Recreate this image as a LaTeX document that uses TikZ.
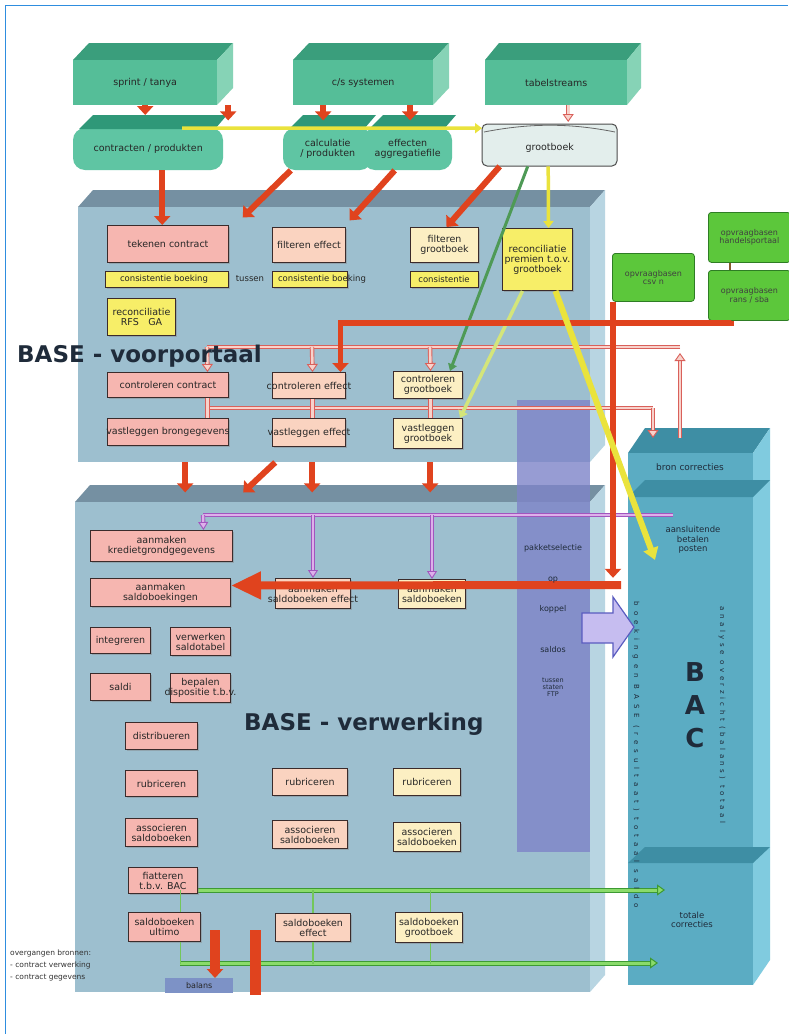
\documentclass[tikz,border=0pt]{standalone}
\usepackage{fontspec}
\setmainfont{DejaVu Sans}
\usetikzlibrary{arrows.meta,shadows}

\definecolor{gfront}{HTML}{55BE98}
\definecolor{gtop}{HTML}{3A9E7C}
\definecolor{gside}{HTML}{86D3B6}
\definecolor{cardb}{HTML}{5FC5A3}
\definecolor{cardt}{HTML}{2F9878}
\definecolor{vfront}{HTML}{9DBFCF}
\definecolor{vtop}{HTML}{7590A2}
\definecolor{vside}{HTML}{B8D5E2}
\definecolor{pkf}{HTML}{F6B6B0}
\definecolor{pcf}{HTML}{FAD3C0}
\definecolor{crf}{HTML}{FCEFC3}
\definecolor{ylf}{HTML}{F7EE68}
\definecolor{bdr}{HTML}{3B2B2B}
\definecolor{redc}{HTML}{E0431E}
\definecolor{yelc}{HTML}{EAE33C}
\definecolor{paley}{HTML}{D4E57A}
\definecolor{grnc}{HTML}{4E9A56}
\definecolor{pinkd}{HTML}{D9605A}
\definecolor{pinkl}{HTML}{F8D2CB}
\definecolor{purd}{HTML}{A255BE}
\definecolor{purl}{HTML}{DDB0EA}
\definecolor{gld}{HTML}{3D9A33}
\definecolor{gll}{HTML}{8ADB6B}
\definecolor{bandc}{HTML}{7E84C8}
\definecolor{bfront}{HTML}{5BACC3}
\definecolor{btop}{HTML}{3E8EA4}
\definecolor{bside}{HTML}{80CBDF}
\definecolor{brgf}{HTML}{5CC73B}
\definecolor{brgd}{HTML}{2E7D24}
\definecolor{titlec}{HTML}{1F2B3A}
\definecolor{framec}{HTML}{2E8DDF}
\definecolor{balc}{HTML}{7D92C6}
\definecolor{arrf}{HTML}{C6BDF0}
\definecolor{arrd}{HTML}{5A5CC0}
\definecolor{gbf}{HTML}{E3EEEC}

\tikzset{
  bare/.style={},
  bx/.style={draw=bdr, line width=1pt, drop shadow={shadow xshift=1.3pt, shadow yshift=-1.3pt, opacity=0.4}},
  pk/.style={bx, fill=pkf},
  pc/.style={bx, fill=pcf},
  cr/.style={bx, fill=crf},
  yl/.style={bx, fill=ylf},
  gr/.style={draw=brgd, fill=brgf, line width=0.8pt, rounded corners=3pt},
  bl/.style={fill=balc},
  btxt/.style={font=\fontsize{9.5}{10}\selectfont, align=center, inner sep=0pt, text=black!85},
  redarr/.style={draw=redc, line width=6pt, -{Triangle[length=9pt,width=16pt]}},
  redbig/.style={draw=redc, line width=8pt, -{Triangle[length=30pt,width=26pt]}},
  yelarr/.style={draw=yelc, line width=3.5pt, -{Triangle[length=7pt,width=10pt]}},
  yelbig/.style={draw=yelc, line width=6pt, -{Triangle[length=12pt,width=15pt]}},
  palearr/.style={draw=paley, line width=3.5pt, -{Triangle[length=7pt,width=10pt]}},
  grnarr/.style={draw=grnc, line width=3pt, -{Triangle[length=7pt,width=9pt]}},
  pinkl1/.style={draw=pinkd, line width=0.9pt, double=pinkl, double distance=2.6pt},
  pinkarr/.style={pinkl1, -{Triangle[length=8pt,width=11pt,fill=pinkl]}},
  purl1/.style={draw=purd, line width=0.9pt, double=purl, double distance=2.4pt},
  purarr/.style={purl1, -{Triangle[length=8pt,width=10pt,fill=purl]}},
  grnl1/.style={draw=gld, line width=1pt, double=gll, double distance=3pt, -{Triangle[length=8pt,width=11pt,fill=gll]}},
  gthin/.style={draw=gll!70!gld, line width=1.6pt},
  title/.style={font=\fontsize{23}{24}\bfseries, text=titlec, inner sep=0pt},
}

\newcommand{\boxnode}[8][]{%
  \node[#3, anchor=north west, inner sep=0pt, minimum width={(#6-#4)*1pt}, minimum height={(#7-#5)*1pt}] (#2) at (#4,#5) {};
  \node[btxt,#1] (#2t) at (#2.center) {#8};}

\newcommand{\cuboid}[9]{%
  \fill[#8] (#1,#2) -- ({#1+#5},{#2-#6}) -- ({#3+#5},{#2-#6}) -- (#3,#2) -- cycle;
  \fill[#9] (#3,#2) -- ({#3+#5},{#2-#6}) -- ({#3+#5},{#4-#6}) -- (#3,#4) -- cycle;
  \fill[#7] (#1,#2) rectangle (#3,#4);}

\newcommand{\card}[6]{%
  \fill[cardb, rounded corners=12pt] (#2,{#3+13}) rectangle (#4,#5);
  \fill[cardt] ({#2+6},{#3+14}) -- ({#2+20},#3) -- ({#4+4},#3) -- ({#4-8},{#3+14}) -- cycle;
  \node[bare, anchor=north west, inner sep=0pt, minimum width={(#4-#2)*1pt}, minimum height={(#5-#3)*1pt}] (#1) at (#2,#3) {};
  \node[btxt] (#1t) at ([yshift=-6pt]#1.center) {#6};}

\begin{document}
\begin{tikzpicture}[x=1pt,y=-1pt]
\useasboundingbox (0,0) rectangle (788,1034);
\fill[white] (0,0) rectangle (788,1034);
\draw[framec, line width=1.2pt] (5.5,1034) -- (5.5,5.5) -- (788,5.5);

% ---- large blocks
\cuboid{78}{207}{590}{462}{15}{17}{fill=vfront}{fill=vtop}{fill=vside}
\node[bare, anchor=north west, inner sep=0pt, minimum width=512pt, minimum height=255pt] (vp) at (78,207) {};
\cuboid{75}{502}{590}{992}{15}{17}{fill=vfront}{fill=vtop}{fill=vside}
\node[bare, anchor=north west, inner sep=0pt, minimum width=515pt, minimum height=490pt] (vw) at (75,502) {};
\cuboid{628}{453}{753}{985}{17}{25}{fill=bfront}{fill=btop}{fill=bside}
\fill[btop] (628,497) -- (645,480) -- (770,480) -- (753,497) -- cycle;
\fill[btop] (628,863) -- (645,847) -- (770,847) -- (753,863) -- cycle;
\node[bare, anchor=north west, inner sep=0pt, minimum width=125pt, minimum height=532pt] (bac) at (628,453) {};

% purple band
\node[fill=bandc, fill opacity=0.8, anchor=north west, inner sep=0pt, minimum width=73pt, minimum height=452pt] (band) at (517,400) {};

% ---- top sources
\cuboid{73}{60}{217}{105}{16}{17}{fill=gfront}{fill=gtop}{fill=gside}
\boxnode{sprint}{bare}{73}{60}{217}{105}{sprint / tanya}
\cuboid{293}{60}{433}{105}{16}{17}{fill=gfront}{fill=gtop}{fill=gside}
\boxnode{cs}{bare}{293}{60}{433}{105}{c/s systemen}
\cuboid{485}{60}{627}{105}{14}{17}{fill=gfront}{fill=gtop}{fill=gside}
\boxnode{tabel}{bare}{485}{60}{627}{105}{tabelstreams}

\card{contr}{73}{115}{223}{170}{contracten / produkten}
\card{calc}{283}{115}{372}{170}{calculatie\\/ produkten}
\card{effa}{363}{115}{452}{170}{effecten\\aggregatiefile}

\draw[draw=black!70, fill=gbf, line width=1pt, rounded corners=5pt] (482,124) rectangle (617,166);
\draw[black!60, line width=0.8pt] (484,132) .. controls (530,123) and (570,123) .. (615,132);
\node[bare, anchor=north west, inner sep=0pt, minimum width=135pt, minimum height=44pt] (gb) at (482,122) {};
\node[btxt] (gbt) at ([yshift=-4pt]gb.center) {grootboek};

% ---- right green sources
\boxnode[font=\fontsize{8}{8.5}\selectfont, text=black!75]{opcsv}{gr}{612}{253}{694}{301}{opvraagbasen\\csv n}
\draw[brown!70!black, line width=2pt] (730,262) -- (730,270);
\boxnode[font=\fontsize{8}{8.5}\selectfont, text=black!75]{ophp}{gr}{708}{212}{790}{262}{opvraagbasen\\handelsportaal}
\boxnode[font=\fontsize{8}{8.5}\selectfont, text=black!75]{oprs}{gr}{708}{270}{790}{320}{opvraagbasen\\rans / sba}

% ---- connectors
\draw[redarr] (sprint.south) -- (sprint.south |- contr.north);
\draw[redarr] ([xshift=83pt]sprint.south) -- ++(0,15);
\draw[redarr] ([xshift=-40pt]cs.south) -- ++(0,15);
\draw[redarr] ([xshift=47pt]cs.south) -- ++(0,15);
\draw[pinkarr] ([xshift=12pt]tabel.south) -- ([xshift=12pt]tabel.south |- gb.north);
\draw[yelarr] ([xshift=34pt,yshift=-13pt]contr.north) -- ([yshift=16pt]gb.west);

\coordinate (ytip) at (655,560);
\coordinate (pk1) at (680,438);
\coordinate (pk2) at (653,438);
\coordinate (rj) at (621,585);
\coordinate (rb1) at (215,930);
\coordinate (rb2) at (255,930);
\coordinate (rb2e) at (255,995);

% pink return lines
\draw[pinkl1] (680,347) -- (207,347);
\draw[pinkarr] (pk1) -- (680,353);
\draw[pinkl1] (207,408) -- (653,408);

% purple line
\draw[purl1] (673,515) -- (203,515);

% green lines
\draw[grnl1] (180,890) -- (665,890);
\draw[grnl1] (180,963) -- (658,963);

% ---- voorportaal boxes
\boxnode{tek}{pk}{107}{225}{228}{262}{tekenen contract}
\boxnode{filef}{pc}{272}{227}{345}{262}{filteren effect}
\boxnode{filgb}{cr}{410}{227}{478}{262}{filteren\\grootboek}
\boxnode{recgb}{yl}{502}{228}{572}{290}{reconciliatie\\premien t.o.v.\\grootboek}
\boxnode{consA}{yl}{105}{271}{228}{287}{}
\boxnode{consB}{yl}{272}{271}{347}{287}{}
\boxnode{consC}{yl}{410}{271}{478}{287}{}
\node[btxt, font=\fontsize{8.5}{9}\selectfont] (ctA) at (164,279) {consistentie boeking};
\node[btxt, font=\fontsize{8.5}{9}\selectfont] (ctM) at (250,279) {tussen};
\node[btxt, font=\fontsize{8.5}{9}\selectfont] (ctB) at (322,279) {consistentie boeking};
\node[btxt, font=\fontsize{8.5}{9}\selectfont] (ctC) at (444,279) {consistentie};
\boxnode{recrfs}{yl}{107}{298}{175}{335}{reconciliatie\\RFS\quad GA}
\boxnode{conco}{pk}{107}{372}{228}{397}{controleren contract}
\boxnode{conef}{pc}{272}{372}{345}{398}{controleren effect}
\boxnode{congb}{cr}{393}{371}{462}{398}{controleren\\grootboek}
\boxnode{vasco}{pk}{107}{418}{228}{445}{vastleggen brongegevens}
\boxnode{vasef}{pc}{272}{418}{345}{446}{vastleggen effect}
\boxnode{vasgb}{cr}{393}{418}{462}{448}{vastleggen\\grootboek}

% ---- verwerking boxes
\boxnode{aankr}{pk}{90}{530}{232}{561}{aanmaken\\kredietgrondgegevens}
\boxnode{aansa}{pk}{90}{578}{230}{606}{aanmaken\\saldoboekingen}
\boxnode{aanef}{pc}{275}{578}{350}{608}{aanmaken\\saldoboeken effect}
\boxnode{aangb}{cr}{398}{579}{465}{608}{aanmaken\\saldoboeken}
\boxnode{integ}{pk}{90}{627}{150}{653}{integreren}
\boxnode{verw}{pk}{170}{627}{230}{655}{verwerken\\saldotabel}
\boxnode{saldi}{pk}{90}{673}{150}{700}{saldi}
\boxnode{bepa}{pk}{170}{673}{230}{702}{bepalen\\dispositie t.b.v.}
\boxnode{distr}{pk}{125}{722}{197}{749}{distribueren}
\boxnode{rub1}{pk}{125}{770}{197}{796}{rubriceren}
\boxnode{ass1}{pk}{125}{818}{197}{846}{associeren\\saldoboeken}
\boxnode{fiat}{pk}{128}{867}{197}{893}{fiatteren\\t.b.v. BAC}
\boxnode{sbu}{pk}{128}{912}{200}{941}{saldoboeken\\ultimo}
\boxnode{rub2}{pc}{272}{768}{347}{795}{rubriceren}
\boxnode{ass2}{pc}{272}{820}{347}{848}{associeren\\saldoboeken}
\boxnode{sbe}{pc}{275}{913}{350}{941}{saldoboeken\\effect}
\boxnode{rub3}{cr}{393}{768}{460}{795}{rubriceren}
\boxnode{ass3}{cr}{393}{822}{460}{851}{associeren\\saldoboeken}
\boxnode{sbg}{cr}{395}{912}{462}{942}{saldoboeken\\grootboek}
\boxnode[font=\fontsize{8}{8.5}\selectfont]{balans}{bl}{165}{978}{233}{993}{balans}

% ---- connectors touching boxes
\draw[redarr] ([xshift=14pt]contr.south) -- ([xshift=14pt]contr.south |- tek.north);
\draw[redarr] ([xshift=-37pt]calc.south) -- ++(-48,47);
\draw[redarr] ([xshift=-13pt]effa.south) -- ++(-45,50);
\draw[redarr] ([xshift=-50pt]gb.south) -- ([xshift=2pt]filgb.north);
\draw[grnarr] ([xshift=-22pt]gb.south) -- ([xshift=22pt]congb.north);
\draw[yelarr] ([xshift=-1.5pt]gb.south) -- ([xshift=11pt]recgb.north);
\draw[palearr] ([xshift=-15pt]recgb.south) -- ([xshift=32pt]vasgb.north);
\draw[redarr, line width=5.5pt] ([xshift=-18pt]oprs.south) -- ++(0,2) -| ([xshift=31.5pt]conef.north);
\draw[redarr] ([xshift=1pt]opcsv.south west) -- ++(0,276);
\draw[redbig] (rj) -- ([yshift=7pt]aansa.east);

\draw[pinkarr] (207,347) -- ([xshift=39.5pt]conco.north);
\draw[pinkarr] (312,347) -- ([xshift=3.5pt]conef.north);
\draw[pinkarr] (430,347) -- ([xshift=2.5pt]congb.north);
\draw[pinkl1] ([xshift=39.5pt]conco.south) -- ([xshift=39.5pt]vasco.north);
\draw[pinkl1] ([xshift=3.5pt]conef.south) -- ([xshift=3.5pt]vasef.north);
\draw[pinkl1] ([xshift=2.5pt]congb.south) -- ([xshift=2.5pt]vasgb.north);
\draw[pinkarr] (653,408) -- (pk2);

\draw[redarr] ([xshift=-149pt]vp.south) -- ++(0,30);
\draw[redarr] ([xshift=-59pt]vp.south) -- ++(-32,30);
\draw[redarr] ([xshift=-22pt]vp.south) -- ++(0,30);
\draw[redarr] ([xshift=96pt]vp.south) -- ++(0,30);

\draw[purarr] (203,515) -- ([xshift=42pt]aankr.north);
\draw[purarr] (313,515) -- (aanef.north);
\draw[purarr] (432,515) -- (aangb.north);

\draw[gthin] ([xshift=16pt]sbu.north) -- ++(0,-22);
\draw[gthin] ([xshift=16pt]sbu.south) -- ++(0,22);
\draw[gthin] (sbe.north) -- ++(0,-23);
\draw[gthin] (sbe.south) -- ++(0,22);
\draw[gthin] ([xshift=1.5pt]sbg.north) -- ++(0,-22);
\draw[gthin] ([xshift=1.5pt]sbg.south) -- ++(0,21);

\draw[redarr, line width=10pt] (rb1) -- (rb1 |- balans.north);
\draw[redc, line width=11pt] (rb2) -- (rb2e);

\draw[yelbig] ([xshift=18pt]recgb.south) -- (ytip);

% block arrow band -> BAC
\fill[arrf, draw=arrd, line width=1.2pt] (582,613) -- (613,613) -- (613,597) -- (634,627) -- (613,657) -- (613,643) -- (582,643) -- cycle;

% ---- texts
\node[title, anchor=base west] (vptitle) at (17,362) {BASE - voorportaal};
\node[title, anchor=base west] (vwtitle) at (244,730) {BASE - verwerking};

\node[btxt, font=\fontsize{8}{8.5}\selectfont, text=titlec] (bt1) at (553,548) {pakketselectie};
\node[btxt, font=\fontsize{8}{8.5}\selectfont, text=titlec] (bt2) at (553,580) {op};
\node[btxt, font=\fontsize{8}{8.5}\selectfont, text=titlec] (bt3) at (553,609) {koppel};
\node[btxt, font=\fontsize{8}{8.5}\selectfont, text=titlec] (bt4) at (553,650) {saldos};
\node[btxt, font=\fontsize{6.5}{7}\selectfont, text=titlec] (bt5) at (553,687) {tussen\\staten\\FTP};

\node[btxt, font=\fontsize{9}{9.5}\selectfont, text=titlec] (bron) at (690,467) {bron correcties};
\node[btxt, font=\fontsize{8.5}{9.5}\selectfont, text=titlec] (aansl) at (693,540) {aansluitende\\betalen\\posten};
\node[btxt, font=\fontsize{26}{33}\bfseries, text=titlec] (bactitle) at (695,705) {B\\A\\C};
\node[btxt, rotate=-90, font=\fontsize{7}{7}\selectfont\addfontfeature{LetterSpace=70}, text=titlec] (bacv1) at (636,755) {boekingen BASE (resultaat) totaal saldo};
\node[btxt, rotate=-90, font=\fontsize{7}{7}\selectfont\addfontfeature{LetterSpace=50}, text=titlec] (bacv2) at (722,715) {analyse overzicht (balans) totaal};
\node[btxt, font=\fontsize{8.5}{9.5}\selectfont, text=titlec] (totc) at (692,920) {totale\\correcties};

\node[anchor=north west, align=left, inner sep=0pt, font=\fontsize{7.5}{12}\selectfont, text=black!80] (overg) at (10,950) {overgangen bronnen:\\ - contract verwerking\\ - contract gegevens};
\end{tikzpicture}
\end{document}
